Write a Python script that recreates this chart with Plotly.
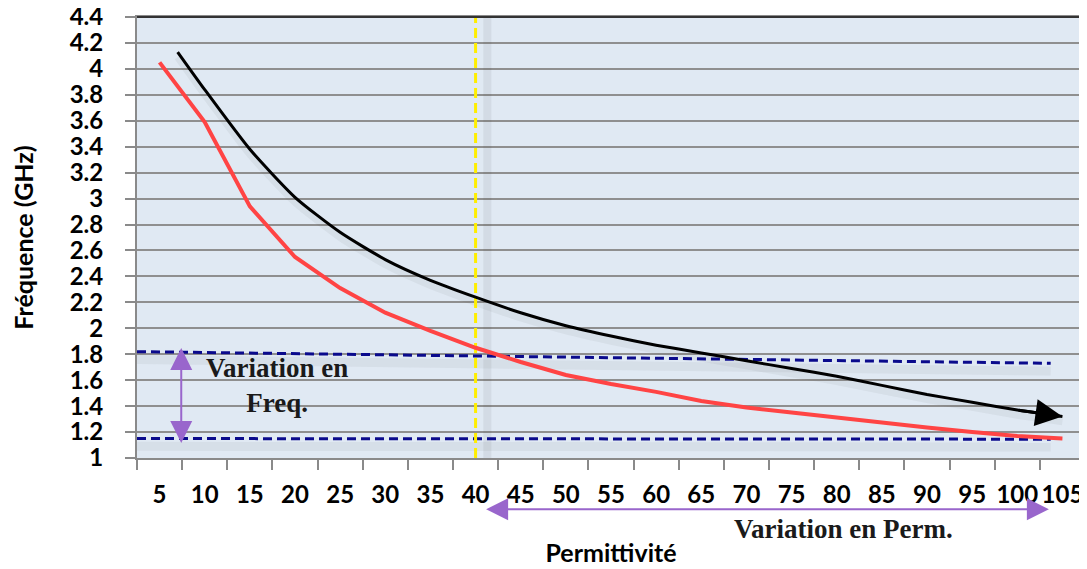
import plotly.graph_objects as go

# Permittivity categories (x axis)
perm = [5, 10, 15, 20, 25, 30, 35, 40, 45, 50, 55, 60, 65, 70, 75, 80, 85, 90, 95, 100, 105]

# red curve: simulated resonance frequency (GHz)
freq_red = [4.05, 3.59, 2.94, 2.55, 2.31, 2.12, 1.98, 1.85, 1.74, 1.64, 1.57, 1.51,
            1.44, 1.39, 1.35, 1.31, 1.27, 1.235, 1.20, 1.17, 1.15]

# black trend curve (ends with an arrow)
perm_black = [7, 10, 15, 20, 25, 30, 35, 40, 45, 50, 55, 60, 65, 70, 75, 80, 85, 90, 95, 100, 105]
freq_black = [4.13, 3.84, 3.38, 3.01, 2.74, 2.53, 2.37, 2.24, 2.12, 2.02, 1.94, 1.87,
              1.81, 1.75, 1.69, 1.63, 1.56, 1.49, 1.43, 1.37, 1.32]

# dashed reference levels (start/end)
band_x = [2.5, 103.7]
band_high = [1.82, 1.73]
band_low = [1.15, 1.145]

# vertical marker
perm_marker = 40

# double arrows
freq_arrow_x = 7.4
freq_arrow_y = [1.86, 1.115]
perm_arrow_x = [41, 103.5]

ytick_vals = [1, 1.2, 1.4, 1.6, 1.8, 2, 2.2, 2.4, 2.6, 2.8, 3, 3.2, 3.4, 3.6, 3.8, 4, 4.2, 4.4]
ytick_text = ["1", "1.2", "1.4", "1.6", "1.8", "2", "2.2", "2.4", "2.6", "2.8", "3",
              "3.2", "3.4", "3.6", "3.8", "4", "4.2", "4.4"]

purple = "#9966cc"
navy = "#0a0a8c"
shadow = "rgba(60,60,60,0.06)"

fig = go.Figure()

# soft shadows
fig.add_trace(go.Scatter(x=band_x, y=[v - 0.06 for v in band_high], mode="lines",
                         line=dict(color=shadow, width=9), hoverinfo="skip"))
fig.add_trace(go.Scatter(x=band_x, y=[v - 0.06 for v in band_low], mode="lines",
                         line=dict(color=shadow, width=9), hoverinfo="skip"))
fig.add_trace(go.Scatter(x=[perm_marker + 1.3, perm_marker + 1.3], y=[1, 4.4], mode="lines",
                         line=dict(color="rgba(60,60,60,0.08)", width=8), hoverinfo="skip"))
fig.add_trace(go.Scatter(x=perm_black, y=[v - 0.04 for v in freq_black], mode="lines",
                         line=dict(color="rgba(60,60,60,0.06)", width=7, shape="spline",
                                   smoothing=0.6),
                         hoverinfo="skip"))

# dashed levels
fig.add_trace(go.Scatter(x=band_x, y=band_high, mode="lines",
                         line=dict(color=navy, width=3, dash="9px,5px")))
fig.add_trace(go.Scatter(x=band_x, y=band_low, mode="lines",
                         line=dict(color=navy, width=3, dash="9px,5px")))

# yellow marker line
fig.add_trace(go.Scatter(x=[perm_marker, perm_marker], y=[1, 4.4], mode="lines",
                         line=dict(color="#ffee00", width=3, dash="10px,5px")))

# curves
fig.add_trace(go.Scatter(x=perm, y=freq_red, mode="lines",
                         line=dict(color="#ff4444", width=4)))
fig.add_trace(go.Scatter(x=perm_black, y=freq_black, mode="lines",
                         line=dict(color="black", width=3, shape="spline", smoothing=0.6)))

# arrowhead at the end of the black curve
fig.add_annotation(x=perm_black[-1], y=freq_black[-1], ax=perm_black[-2], ay=freq_black[-2],
                   xref="x", yref="y", axref="x", ayref="y", text="", showarrow=True,
                   arrowhead=2, arrowsize=1.8, arrowwidth=3, arrowcolor="black")

# frequency variation arrow
fig.add_annotation(x=freq_arrow_x, y=freq_arrow_y[1], ax=freq_arrow_x, ay=freq_arrow_y[0],
                   xref="x", yref="y", axref="x", ayref="y", text="", showarrow=True,
                   arrowhead=2, startarrowhead=2, arrowside="end+start",
                   arrowsize=2.2, startarrowsize=2.2, arrowwidth=2, arrowcolor=purple)
fig.add_annotation(x=18.0, y=1.56, xref="x", yref="y", showarrow=False,
                   text="<b>Variation en<br>Freq.</b>", align="center",
                   font=dict(family="Liberation Serif", size=27, color="#1a1a1a"))

# permittivity variation arrow (below axis)
fig.add_annotation(x=perm_arrow_x[1], y=-0.116, ax=perm_arrow_x[0], ay=0,
                   xref="x", yref="paper", axref="x", ayref="pixel", text="", showarrow=True,
                   arrowhead=2, startarrowhead=2, arrowside="end+start",
                   arrowsize=2.2, startarrowsize=2.2, arrowwidth=2, arrowcolor=purple)
fig.add_annotation(x=80.7, y=-0.16, xref="x", yref="paper", yanchor="middle",
                   showarrow=False, text="<b>Variation en Perm.</b>",
                   font=dict(family="Liberation Serif", size=27, color="#1a1a1a"))

# dark top border
fig.add_shape(type="line", xref="paper", yref="paper", x0=0, x1=1, y0=1, y1=1,
              line=dict(color="#333333", width=2))

# the page body adds an 8px margin, so the figure is sized to fit inside the window
fig.update_layout(
    width=1079, height=561,
    margin=dict(l=129, r=2, t=9, b=111),
    paper_bgcolor="white",
    plot_bgcolor="#e0e9f3",
    showlegend=False,
    font=dict(family="Lato", color="black"),
    xaxis=dict(
        range=[2.5, 107.5], tickvals=perm, ticks="", showgrid=False,
        tickfont=dict(family="Lato", size=24, color="black", weight="bold"),
        ticklabelstandoff=14, automargin=False, ticklabeloverflow="allow",
        showline=True, linecolor="#8a8a8a", linewidth=2, mirror=True,
        minor=dict(tick0=2.5, dtick=5, ticks="outside", ticklen=10, tickwidth=2,
                   tickcolor="#8a8a8a", showgrid=False),
        title=dict(text="<b>Permittivité</b>", font=dict(family="Lato", size=25), standoff=38),
        zeroline=False,
    ),
    yaxis=dict(
        range=[1, 4.4], tickvals=ytick_vals, ticktext=ytick_text,
        ticks="outside", ticklen=10, tickwidth=2, tickcolor="#8a8a8a",
        tickfont=dict(family="Lato", size=24, color="black", weight="bold"),
        ticklabelstandoff=17, automargin=False, ticklabeloverflow="allow",
        showgrid=True, gridcolor="#8f8f8f", gridwidth=2,
        showline=True, linecolor="#8a8a8a", linewidth=2, mirror=True,
        title=dict(text="<b>Fréquence (GHz)</b>", font=dict(family="Lato", size=25), standoff=32),
        zeroline=False,
    ),
)

fig.write_html("out.html")
